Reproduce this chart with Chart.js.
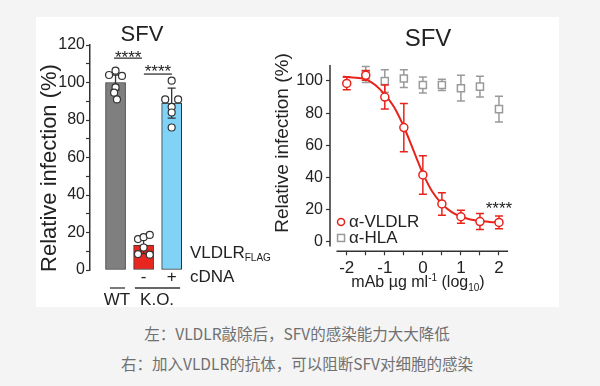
<!DOCTYPE html>
<html>
<head>
<meta charset="utf-8">
<script src="https://cdn.jsdelivr.net/npm/chart.js"></script>
<style>
body { margin: 0; background: #f4f4f4; width: 600px; height: 386px; overflow: hidden; position: relative; }
#panel { position: absolute; left: 36px; top: 17px; width: 523px; height: 290px; background: #fff; }
#barCanvas { position: absolute; left: 0; top: 0; }
#curveCanvas { position: absolute; left: 234px; top: 0; }
.cap { position: absolute; left: -3px; width: 600px; text-align: center; font: 15.5px "Noto Sans CJK SC", sans-serif; color: #707070; line-height: 20px; }
</style>
</head>
<body>
<div id="panel">
  <canvas id="barCanvas" width="250" height="290"></canvas>
  <canvas id="curveCanvas" width="289" height="290"></canvas>
</div>
<div class="cap" style="top:323px">左：VLDLR敲除后，SFV的感染能力大大降低</div>
<div class="cap" style="top:353px">右：加入VLDLR的抗体，可以阻断SFV对细胞的感染</div>

<script>
// left panel: knock-out bars
var groupPos = [1, 2, 3];
var barMeans = [100, 13.3, 89];
var barErrors = [4, 4.6, 8];
var barColors = ['#7f7f7f', '#e8261f', '#80d2f6'];
var wtDots = [104, 106.3, 103.5, 97.4, 94.6, 91];
var wtJitter = [-0.23, 0, 0.23, 0, -0.05, 0.05];
var koDots = [16.5, 17.5, 18.7, 8.5, 8.2, 12];
var koJitter = [-0.2, 0, 0.22, -0.2, 0.22, 0];
var rescueDots = [101, 91, 91, 87, 84, 76];
var rescueJitter = [0, -0.23, 0.23, 0, 0, 0];
var barTicks = [0, 10, 20, 30, 40, 50, 60, 70, 80, 90, 100, 110, 120];

// right panel: antibody titration
var doseX = [-2, -1.5, -1, -0.5, 0, 0.5, 1, 1.5, 2];
var vldlr = [98.5, 103.5, 90, 71, 41.5, 23.5, 15.5, 12.5, 12];
var vldlrErr = [4, 3, 7.5, 15, 12, 7, 4, 5, 4];
var hlaX = [-1.5, -1, -0.5, 0, 0.5, 1, 1.5, 2];
var hla = [104, 100, 101.5, 97.5, 97.5, 95.5, 96.5, 82.5];
var hlaErr = [5, 7, 5.5, 5, 3.5, 8, 6.5, 8];
var fitX = [-2.1, -2, -1.75, -1.5, -1.25, -1, -0.75, -0.5, -0.25, 0, 0.25, 0.5, 0.75, 1, 1.25, 1.5, 1.75, 2];
var fitY = [102.6, 102.5, 102, 101, 97.5, 91.5, 83.5, 71.5, 57, 42.5, 31, 23.5, 18.5, 15.5, 13.8, 12.8, 12.3, 12];
var doseTicks = [-2, -1.5, -1, -0.5, 0, 0.5, 1, 1.5, 2];
var pctTicks = [0, 20, 40, 60, 80, 100];

var FONT = 'Arial, "Liberation Sans", sans-serif';
var INK = '#222';
Chart.defaults.font.family = FONT;
Chart.defaults.color = INK;

function pts(xs, ys) {
    return xs.map(function (x, i) { return { x: x, y: ys[i] }; });
}

function dots(vals, jitter, pos) {
    return vals.map(function (v, i) { return { x: pos + jitter[i], y: v }; });
}

// error bars, drawn from dataset.errors through the chart scales
function drawErrors(chart, idx) {
    var ds = chart.data.datasets[idx];
    if (!ds.errors) return;
    var ctx = chart.ctx, xs = chart.scales.x, ys = chart.scales.y;
    ctx.save();
    ctx.strokeStyle = ds.errColor;
    ctx.lineWidth = ds.errWidth || 1.5;
    ds.data.forEach(function (p, i) {
        var e = ds.errors[i];
        var px = xs.getPixelForValue(p.x);
        var top = ys.getPixelForValue(p.y + e), bot = ys.getPixelForValue(p.y - e);
        ctx.beginPath();
        ctx.moveTo(px, top); ctx.lineTo(px, bot);
        ctx.moveTo(px - 4, top); ctx.lineTo(px + 4, top);
        ctx.moveTo(px - 4, bot); ctx.lineTo(px + 4, bot);
        ctx.stroke();
    });
    ctx.restore();
}

var errorPlugin = {
    id: 'errorBars',
    beforeDatasetDraw: function (chart, args) {
        if (chart.data.datasets[args.index].type !== 'bar') drawErrors(chart, args.index);
    },
    afterDatasetDraw: function (chart, args) {
        if (chart.data.datasets[args.index].type === 'bar') drawErrors(chart, args.index);
    }
};

// text with sub/superscript pieces
function rich(ctx, parts, x, y, align) {
    var w = 0;
    parts.forEach(function (p) { ctx.font = p.size + 'px ' + FONT; p.w = ctx.measureText(p.t).width; w += p.w; });
    var cx = align === 'center' ? x - w / 2 : x;
    parts.forEach(function (p) {
        ctx.font = p.size + 'px ' + FONT;
        ctx.textAlign = 'left';
        ctx.fillText(p.t, cx, y + (p.dy || 0));
        cx += p.w;
    });
}

function text(ctx, s, x, y, size, align, base) {
    ctx.font = size + 'px ' + FONT;
    ctx.textAlign = align || 'center';
    ctx.textBaseline = base || 'middle';
    ctx.fillText(s, x, y);
}

function vtext(ctx, s, x, y, size) {
    ctx.save();
    ctx.translate(x, y);
    ctx.rotate(-Math.PI / 2);
    text(ctx, s, 0, 0, size);
    ctx.restore();
}

function hline(ctx, x1, x2, y, w) {
    ctx.beginPath();
    ctx.moveTo(x1, y); ctx.lineTo(x2, y);
    ctx.lineWidth = w || 1.3;
    ctx.strokeStyle = '#333';
    ctx.stroke();
}

var barText = {
    id: 'barText',
    afterDraw: function (chart) {
        var ctx = chart.ctx, X = chart.scales.x, Y = chart.scales.y;
        var gx = function (v) { return X.getPixelForValue(v); };
        var gy = function (v) { return Y.getPixelForValue(v); };
        ctx.save();
        ctx.fillStyle = INK;
        text(ctx, 'SFV', 106, 18, 22);
        vtext(ctx, 'Relative infection (%)', 14, 151, 22);
        // significance
        text(ctx, '****', gx(1.45), gy(110.3), 17, 'center', 'alphabetic');
        hline(ctx, gx(0.945), gx(1.94), gy(113));
        text(ctx, '****', gx(2.51), gy(102.8), 17, 'center', 'alphabetic');
        hline(ctx, gx(2.01), gx(3.01), gy(104.5));
        // condition labels
        ctx.textBaseline = 'middle';
        rich(ctx, [{ t: 'VLDLR', size: 17 }, { t: 'FLAG', size: 10, dy: 5 }], gx(3.65), gy(9), 'left');
        text(ctx, 'cDNA', gx(3.65), gy(-3.7), 17, 'left');
        text(ctx, '-', gx(2), gy(-3.7), 17);
        text(ctx, '+', gx(3), gy(-3.7), 17);
        hline(ctx, gx(0.8), gx(1.34), gy(-9.6));
        hline(ctx, gx(1.69), gx(3.3), gy(-9.6));
        text(ctx, 'WT', gx(1.05), gy(-16), 17);
        text(ctx, 'K.O.', gx(2.48), gy(-16), 17);
        ctx.restore();
    }
};

var curveText = {
    id: 'curveText',
    afterDraw: function (chart) {
        var ctx = chart.ctx, X = chart.scales.x, Y = chart.scales.y;
        var gx = function (v) { return X.getPixelForValue(v); };
        var gy = function (v) { return Y.getPixelForValue(v); };
        var a = chart.chartArea;
        ctx.save();
        // axis lines
        ctx.strokeStyle = '#333';
        ctx.lineWidth = 1.5;
        ctx.beginPath();
        ctx.moveTo(a.left, gy(110)); ctx.lineTo(a.left, gy(-3));
        ctx.moveTo(gx(-2.27), a.bottom); ctx.lineTo(gx(2.24), a.bottom);
        ctx.stroke();
        ctx.fillStyle = INK;
        text(ctx, 'SFV', 158, 22, 24);
        vtext(ctx, 'Relative infection (%)', 13, 126, 19);
        ctx.textBaseline = 'middle';
        rich(ctx, [{ t: 'mAb \u00b5g ml', size: 16 }, { t: '-1', size: 10, dy: -5 }, { t: ' (log', size: 16 }, { t: '10', size: 10, dy: 5 }, { t: ')', size: 16 }], 148, 266, 'center');
        text(ctx, '****', gx(2.0), gy(17.1), 17, 'center', 'alphabetic');
        // legend
        ctx.lineWidth = 1.5;
        ctx.strokeStyle = '#e8231c';
        ctx.beginPath();
        ctx.arc(gx(-2.15), gy(12.3), 3.5, 0, Math.PI * 2);
        ctx.stroke();
        ctx.strokeStyle = '#9a9a9a';
        ctx.strokeRect(gx(-2.15) - 3.5, gy(2.3) - 3.5, 7, 7);
        ctx.fillStyle = INK;
        text(ctx, '\u03b1-VLDLR', gx(-1.94), gy(12.3), 17, 'left');
        text(ctx, '\u03b1-HLA', gx(-1.94), gy(2.3), 17, 'left');
        ctx.restore();
    }
};

new Chart(document.getElementById('barCanvas'), {
    type: 'bar',
    data: {
        datasets: [
            {
                type: 'scatter',
                data: dots(wtDots, wtJitter, groupPos[0])
                    .concat(dots(koDots, koJitter, groupPos[1]))
                    .concat(dots(rescueDots, rescueJitter, groupPos[2])),
                pointRadius: 3.5,
                pointBorderWidth: 1.2,
                pointBorderColor: '#333',
                pointBackgroundColor: '#fff',
                order: 1
            },
            {
                type: 'bar',
                data: pts(groupPos, barMeans),
                errors: barErrors,
                errColor: '#333',
                errWidth: 1.3,
                backgroundColor: barColors,
                borderColor: '#333',
                borderWidth: 1,
                borderSkipped: false,
                barThickness: 20,
                order: 2
            }
        ]
    },
    options: {
        responsive: false,
        animation: false,
        layout: { padding: { left: 0, top: 28, right: 100.3, bottom: 37 } },
        plugins: { legend: { display: false }, tooltip: { enabled: false } },
        scales: {
            x: { type: 'linear', min: 0.09, max: 3.5, offset: false, display: false },
            y: {
                min: 0, max: 120,
                afterFit: function (s) { s.width = 54; },
                afterBuildTicks: function (s) { s.ticks = barTicks.map(function (v) { return { value: v }; }); },
                ticks: { font: { size: 16 }, color: INK, padding: 1, autoSkip: false,
                    callback: function (v) { return v % 20 === 0 ? String(v) : ''; } },
                grid: { display: true, drawOnChartArea: false, drawTicks: true, tickLength: 4, tickColor: '#333', tickWidth: 1.2 },
                border: { display: true, color: '#333', width: 1.5 }
            }
        }
    },
    plugins: [errorPlugin, barText]
});

new Chart(document.getElementById('curveCanvas'), {
    type: 'scatter',
    data: {
        datasets: [
            {
                data: pts(doseX, vldlr),
                errors: vldlrErr,
                errColor: '#e8231c',
                pointStyle: 'circle',
                pointRadius: 4,
                pointBorderWidth: 1.5,
                pointBorderColor: '#e8231c',
                pointBackgroundColor: '#fff',
                order: 1
            },
            {
                type: 'line',
                data: pts(fitX, fitY),
                borderColor: '#e8231c',
                borderWidth: 2,
                pointRadius: 0,
                cubicInterpolationMode: 'monotone',
                fill: false,
                order: 2
            },
            {
                data: pts(hlaX, hla),
                errors: hlaErr,
                errColor: '#9a9a9a',
                pointStyle: 'rect',
                pointRadius: 5,
                pointBorderWidth: 1.5,
                pointBorderColor: '#9a9a9a',
                pointBackgroundColor: '#fff',
                order: 3
            }
        ]
    },
    options: {
        responsive: false,
        animation: false,
        layout: { padding: { left: 0, top: 47.9, right: 48.6, bottom: 25.7 } },
        plugins: { legend: { display: false }, tooltip: { enabled: false } },
        scales: {
            x: {
                type: 'linear', min: -2.44, max: 2.3,
                afterFit: function (s) { s.height = 30; },
                afterBuildTicks: function (s) { s.ticks = doseTicks.map(function (v) { return { value: v }; }); },
                ticks: { font: { size: 17 }, color: INK, padding: 3, autoSkip: false, maxRotation: 0,
                    callback: function (v) { return Number.isInteger(v) ? String(v) : ''; } },
                grid: { display: true, drawOnChartArea: false, drawTicks: true, tickLength: 4, tickColor: '#333', tickWidth: 1.2 },
                border: { display: false }
            },
            y: {
                min: -6, max: 110,
                afterFit: function (s) { s.width = 60; },
                afterBuildTicks: function (s) { s.ticks = pctTicks.map(function (v) { return { value: v }; }); },
                ticks: { font: { size: 16 }, color: INK, padding: 3, autoSkip: false },
                grid: { display: true, drawOnChartArea: false, drawTicks: true, tickLength: 4, tickColor: '#333', tickWidth: 1.2 },
                border: { display: false }
            }
        }
    },
    plugins: [errorPlugin, curveText]
});
</script>
</body>
</html>
